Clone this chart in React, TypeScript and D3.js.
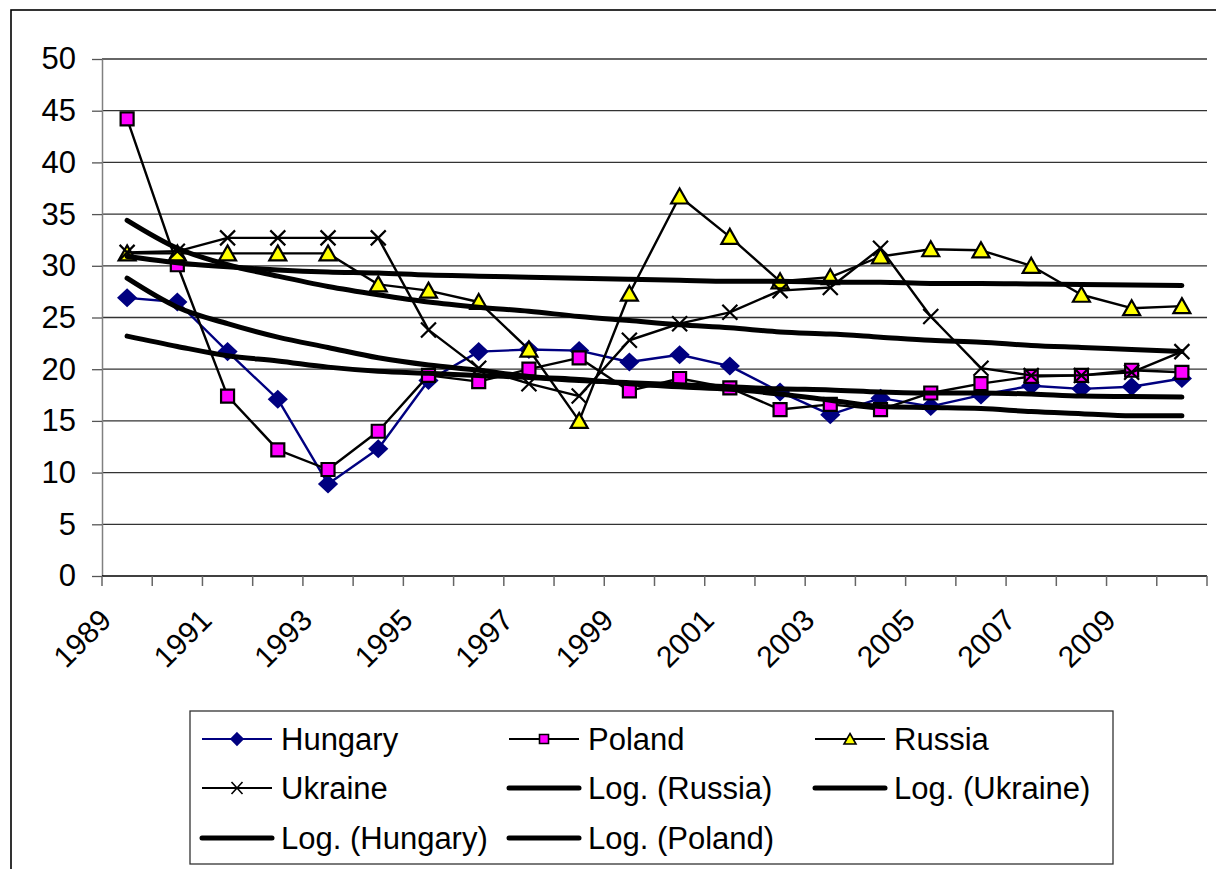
import { useEffect, useRef } from "react";
import * as d3 from "d3";

// values
const years = [
  "1989", "1990", "1991", "1992", "1993", "1994", "1995", "1996", "1997", "1998", "1999",
  "2000", "2001", "2002", "2003", "2004", "2005", "2006", "2007", "2008", "2009", "2010",
];
const xTickLabels = ["1989", "1991", "1993", "1995", "1997", "1999", "2001", "2003", "2005", "2007", "2009"];
const yTicks = [0, 5, 10, 15, 20, 25, 30, 35, 40, 45, 50];

const hungary = [26.9, 26.5, 21.7, 17.1, 8.9, 12.3, 18.9, 21.7, 21.9, 21.8, 20.7, 21.4, 20.3, 17.8, 15.6, 17.2, 16.4, 17.5, 18.4, 18.1, 18.3, 19.1];
const poland = [44.2, 30.1, 17.4, 12.2, 10.3, 14.0, 19.4, 18.8, 20.0, 21.1, 17.9, 19.1, 18.2, 16.1, 16.6, 16.1, 17.7, 18.6, 19.3, 19.4, 19.9, 19.7];
const russia = [31.2, 31.2, 31.2, 31.2, 31.2, 28.2, 27.6, 26.5, 21.9, 15.0, 27.3, 36.7, 32.8, 28.5, 28.9, 30.9, 31.6, 31.5, 30.0, 27.2, 25.9, 26.1];
const ukraine = [31.3, 31.4, 32.7, 32.7, 32.7, 32.7, 23.8, 20.1, 18.6, 17.4, 22.8, 24.4, 25.5, 27.6, 27.9, 31.7, 25.1, 20.1, 19.4, 19.4, 19.7, 21.7];

const logRussia = [30.9, 30.3, 29.9, 29.6, 29.4, 29.3, 29.1, 29.0, 28.9, 28.8, 28.7, 28.6, 28.5, 28.5, 28.4, 28.4, 28.3, 28.3, 28.25, 28.2, 28.15, 28.1];
const logUkraine = [34.4, 31.7, 30.1, 29.0, 28.0, 27.2, 26.5, 26.0, 25.6, 25.1, 24.7, 24.3, 24.0, 23.6, 23.4, 23.1, 22.8, 22.6, 22.3, 22.1, 21.9, 21.7];
const logHungary = [23.2, 22.2, 21.3, 20.8, 20.2, 19.8, 19.6, 19.4, 19.2, 18.9, 18.7, 18.5, 18.3, 18.1, 18.0, 17.8, 17.7, 17.7, 17.6, 17.4, 17.35, 17.3];
const logPoland = [28.8, 26.0, 24.4, 23.1, 22.1, 21.1, 20.4, 19.9, 19.3, 19.0, 18.6, 18.3, 18.05, 17.6, 17.0, 16.4, 16.3, 16.2, 15.9, 15.7, 15.5, 15.5];

const FONT = "'Liberation Sans', Arial, sans-serif";

const markerPaths: Record<string, string> = {
  diamond: "M0,-8L8.5,0L0,8L-8.5,0Z",
  square: "M-6.5,-6.5H6.5V6.5H-6.5Z",
  triangle: "M0,-8L8.5,7H-8.5Z",
  cross: "M-7.5,-7.5L7.5,7.5M7.5,-7.5L-7.5,7.5",
};
const legendMarkerPaths: Record<string, string> = {
  diamond: "M0,-6L6,0L0,6L-6,0Z",
  square: "M-4.5,-4.5H4.5V4.5H-4.5Z",
  triangle: "M0,-5.5L6,5H-6Z",
  cross: "M-5.5,-6L5.5,6M5.5,-6L-5.5,6",
};

export default function App() {
  const svgRef = useRef<SVGSVGElement>(null);

  useEffect(() => {
    const svg = d3.select(svgRef.current);
    svg.selectAll("*").remove();

    const left = 102, right = 1207, top = 59, bottom = 576;

    const x = d3.scaleBand().domain(years).range([left, right]);
    const cx = (yr: string) => (x(yr) as number) + x.bandwidth() / 2;
    const y = d3.scaleLinear().domain([0, 50]).range([bottom, top]);

    // outer frame (right/bottom edges fall outside the picture)
    svg.append("rect")
      .attr("x", 11).attr("y", 10)
      .attr("width", 1240).attr("height", 900)
      .attr("fill", "white")
      .attr("stroke", "#000").attr("stroke-width", 1.6);

    // gridlines
    svg.append("g").selectAll("line").data(yTicks.slice(1)).join("line")
      .attr("x1", left).attr("x2", right)
      .attr("y1", d => y(d)).attr("y2", d => y(d))
      .attr("stroke", "#333").attr("stroke-width", 1.3);

    // y axis
    const yAxis = svg.append("g")
      .attr("transform", `translate(${left},0)`)
      .call(d3.axisLeft(y).tickValues(yTicks).tickSize(10).tickSizeOuter(0).tickPadding(16));
    yAxis.select(".domain").attr("stroke", "#808080").attr("stroke-width", 1.5);
    yAxis.selectAll(".tick line").attr("stroke", "#555").attr("stroke-width", 1.3);
    yAxis.selectAll(".tick text")
      .attr("font-family", FONT).attr("font-size", 31).attr("fill", "#000");

    // x axis: ticks on category boundaries
    svg.append("line")
      .attr("x1", left).attr("x2", right).attr("y1", bottom).attr("y2", bottom)
      .attr("stroke", "#000").attr("stroke-width", 1.5);
    const bounds = years.map(yr => x(yr) as number).concat([right]);
    svg.append("g").selectAll("line").data(bounds).join("line")
      .attr("x1", d => d).attr("x2", d => d)
      .attr("y1", bottom).attr("y2", bottom + 10)
      .attr("stroke", "#666").attr("stroke-width", 1.5);
    svg.append("g").selectAll("text").data(xTickLabels).join("text")
      .attr("transform", d => `translate(${cx(d) - 14},${bottom + 46}) rotate(-45)`)
      .attr("text-anchor", "end")
      .attr("font-family", FONT).attr("font-size", 30).attr("fill", "#000")
      .text(d => d);

    const line = d3.line<number>()
      .x((_, i) => cx(years[i]))
      .y(d => y(d));

    const series = [
      { values: hungary, color: "#000080", marker: "diamond", fill: "#000080", stroke: "#000080" },
      { values: poland, color: "#000", marker: "square", fill: "#FF00FF", stroke: "#000" },
      { values: russia, color: "#000", marker: "triangle", fill: "#FFFF00", stroke: "#000" },
      { values: ukraine, color: "#000", marker: "cross", fill: "none", stroke: "#000" },
    ];

    series.forEach(s => {
      svg.append("path")
        .datum(s.values)
        .attr("fill", "none")
        .attr("stroke", s.color)
        .attr("stroke-width", 2.4)
        .attr("stroke-linejoin", "round")
        .attr("d", line);
      svg.append("g").selectAll("path").data(s.values).join("path")
        .attr("transform", (d, i) => `translate(${cx(years[i])},${y(d)})`)
        .attr("d", markerPaths[s.marker])
        .attr("fill", s.fill)
        .attr("stroke", s.stroke)
        .attr("stroke-width", 2.2);
    });

    // logarithmic trendlines, drawn on top
    const trend = d3.line<number>()
      .x((_, i) => cx(years[i]))
      .y(d => y(d))
      .curve(d3.curveMonotoneX);
    [logRussia, logUkraine, logHungary, logPoland].forEach(t => {
      svg.append("path")
        .datum(t)
        .attr("fill", "none")
        .attr("stroke", "#000")
        .attr("stroke-width", 5)
        .attr("stroke-linecap", "round")
        .attr("stroke-linejoin", "round")
        .attr("d", trend);
    });

    // legend
    const legend = svg.append("g");
    legend.append("rect")
      .attr("x", 190).attr("y", 711).attr("width", 923).attr("height", 153)
      .attr("fill", "white").attr("stroke", "#333").attr("stroke-width", 1.3);

    const colX = [202, 509, 815];
    const rowY = [739, 788, 838];
    const items = [
      { label: "Hungary", kind: "diamond", color: "#000080", fill: "#000080" },
      { label: "Poland", kind: "square", color: "#000", fill: "#FF00FF" },
      { label: "Russia", kind: "triangle", color: "#000", fill: "#FFFF00" },
      { label: "Ukraine", kind: "cross", color: "#000", fill: "none" },
      { label: "Log. (Russia)", kind: "trend", color: "#000", fill: "none" },
      { label: "Log. (Ukraine)", kind: "trend", color: "#000", fill: "none" },
      { label: "Log. (Hungary)", kind: "trend", color: "#000", fill: "none" },
      { label: "Log. (Poland)", kind: "trend", color: "#000", fill: "none" },
    ];
    items.forEach((it, i) => {
      const lx = colX[i % 3];
      const ly = rowY[Math.floor(i / 3)];
      const g = legend.append("g").attr("transform", `translate(${lx},${ly})`);
      g.append("line")
        .attr("x1", 0).attr("x2", 70).attr("y1", 0).attr("y2", 0)
        .attr("stroke", it.color)
        .attr("stroke-width", it.kind === "trend" ? 5 : 1.8)
        .attr("stroke-linecap", it.kind === "trend" ? "round" : "butt");
      if (it.kind !== "trend") {
        g.append("path")
          .attr("transform", "translate(35,0)")
          .attr("d", legendMarkerPaths[it.kind])
          .attr("fill", it.fill)
          .attr("stroke", it.color)
          .attr("stroke-width", 1.6);
      }
      g.append("text")
        .attr("x", 79).attr("y", 0).attr("dy", "0.35em")
        .attr("font-family", FONT).attr("font-size", 31).attr("fill", "#000")
        .text(it.label);
    });
  }, []);

  return (
    <svg
      ref={svgRef}
      width={1216}
      height={869}
      style={{ position: "absolute", left: 0, top: 0, background: "white" }}
    />
  );
}
